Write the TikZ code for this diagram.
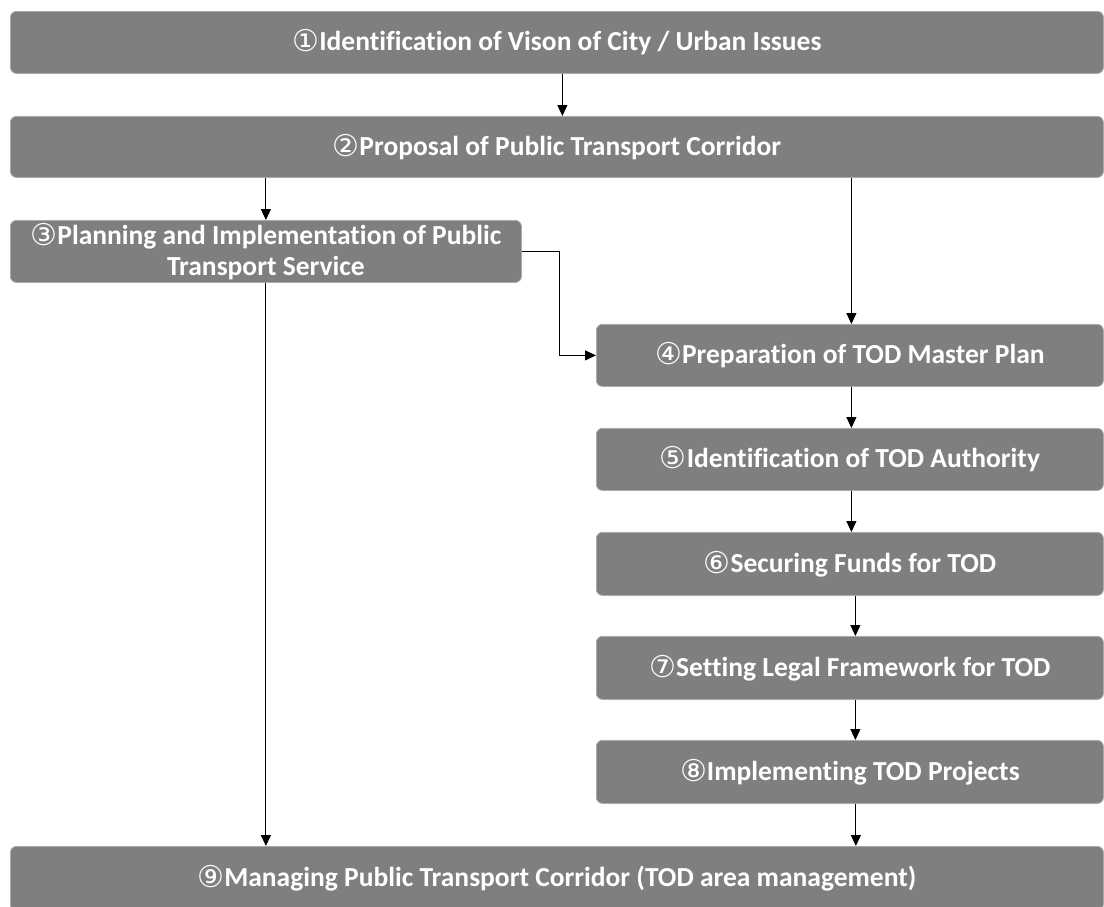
\documentclass[tikz,border=0pt]{standalone}
\usepackage{fontspec}
\setmainfont{Carlito}[Ligatures=NoCommon]
\newfontfamily\dejavu{DejaVu Sans}
\usetikzlibrary{arrows.meta,positioning}
\definecolor{boxgray}{RGB}{127,127,127}
\definecolor{edgegray}{RGB}{170,170,170}
\newcommand\cnum[1]{\raisebox{-1pt}{\dejavu\mdseries\fontsize{30}{30}\selectfont #1}}
\begin{document}
\begin{tikzpicture}[x=1pt,y=-1pt,
  stagebox/.style={draw=edgegray, line width=0.8pt, fill=boxgray, rounded corners=6pt,
    text=white, font=\fontsize{27.5}{31}\selectfont\bfseries, align=center,
    anchor=north west, inner sep=0pt},
  flow/.style={draw=black, line width=1.1pt, -{Triangle[length=11pt,width=10pt]}}]
\clip (0,0) rectangle (1104,906);
\fill[white] (0,0) rectangle (1104,906);

% stages
\node[stagebox, minimum width=1093pt, minimum height=62pt] (n1) at (10,11)
  {\cnum{①}Identification of Vison of City / Urban Issues};
\node[stagebox, minimum width=1093pt, minimum height=61pt] (n2) at (10,116)
  {\cnum{②}Proposal of Public Transport Corridor};
\node[stagebox, minimum width=511pt, minimum height=62pt] (n3) at (10,220)
  {\cnum{③}Planning and Implementation of Public\\Transport Service};
\node[stagebox, minimum width=507pt, minimum height=62pt] (n4) at (596,324)
  {\cnum{④}Preparation of TOD Master Plan};
\node[stagebox, minimum width=507pt, minimum height=62pt] (n5) at (596,428)
  {\cnum{⑤}Identification of TOD Authority};
\node[stagebox, minimum width=507pt, minimum height=63pt] (n6) at (596,532)
  {\cnum{⑥}Securing Funds for TOD};
\node[stagebox, minimum width=507pt, minimum height=63pt] (n7) at (596,636)
  {\cnum{⑦}Setting Legal Framework for TOD};
\node[stagebox, minimum width=507pt, minimum height=63pt] (n8) at (596,740)
  {\cnum{⑧}Implementing TOD Projects};
\node[stagebox, minimum width=1093pt, minimum height=64pt] (n9) at (10,846)
  {\cnum{⑨}Managing Public Transport Corridor (TOD area management)};

% connectors
\draw[flow] ([xshift=5.5pt]n1.south) -- ([xshift=5.5pt]n2.north);
\draw[flow] (n2.south -| n3.north) -- (n3.north);
\draw[flow] ([xshift=294.5pt]n2.south) -- ([xshift=1.5pt]n4.north);
\draw[flow] (n3.east) -- ++(38,0) |- (n4.west);
\draw[flow] (n3.south) -- (n3.south |- n9.north);
\draw[flow] ([xshift=1.5pt]n4.south) -- ([xshift=1.5pt]n5.north);
\draw[flow] ([xshift=1.5pt]n5.south) -- ([xshift=1.5pt]n6.north);
\draw[flow] ([xshift=5.5pt]n6.south) -- ([xshift=5.5pt]n7.north);
\draw[flow] ([xshift=5.5pt]n7.south) -- ([xshift=5.5pt]n8.north);
\draw[flow] ([xshift=6pt]n8.south) -- ([xshift=6pt]n8.south |- n9.north);
\end{tikzpicture}
\end{document}
